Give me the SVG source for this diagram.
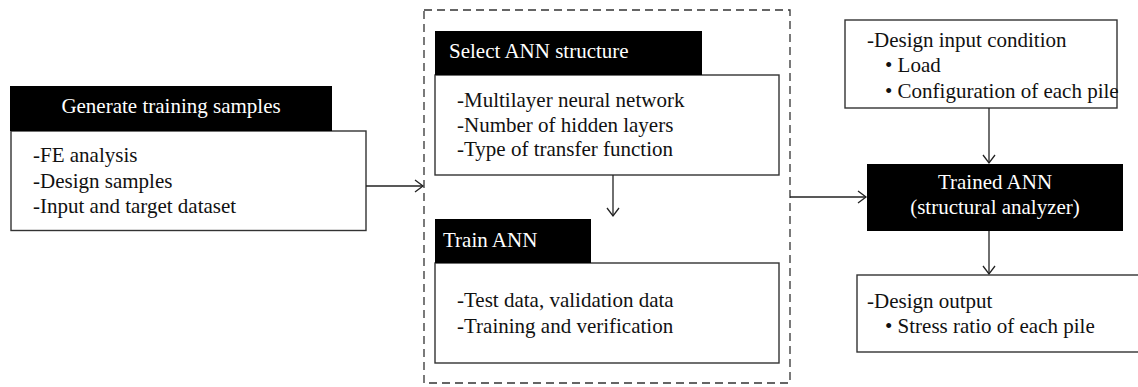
<svg xmlns="http://www.w3.org/2000/svg" width="1138" height="387" viewBox="0 0 1138 387">
<style>
text{font-family:"Liberation Serif","Times New Roman",serif;font-size:21px;fill:#111}
.hd{fill:#000}
.bx{fill:#fff;stroke:#333;stroke-width:1.4}
.wt{fill:#fff}
.ln{fill:none;stroke:#222;stroke-width:1.3}
.dash{fill:none;stroke:#333;stroke-width:1.3;stroke-dasharray:8 5}
</style>
<defs>
<marker id="arr" markerUnits="userSpaceOnUse" markerWidth="12" markerHeight="14" refX="9" refY="7" orient="auto">
<path d="M1,1 L9,7 L1,13" fill="none" stroke="#222" stroke-width="1.3"/>
</marker>
</defs>
<rect id="group-ann" class="dash" x="424" y="10" width="366" height="373"/>
<g id="generate">
<rect class="bx" x="11" y="131" width="355" height="99.5"/>
<rect class="hd" x="10" y="86" width="322" height="45"/>
<text class="wt" x="171" y="113" text-anchor="middle">Generate training samples</text>
<text x="33" y="162">-FE analysis</text>
<text x="33" y="188">-Design samples</text>
<text x="33" y="213">-Input and target dataset</text>
</g>
<g id="select">
<rect class="bx" x="435" y="75" width="344" height="100"/>
<rect class="hd" x="435" y="31" width="267" height="44"/>
<text class="wt" x="449" y="58">Select ANN structure</text>
<text x="457" y="107">-Multilayer neural network</text>
<text x="457" y="132">-Number of hidden layers</text>
<text x="457" y="156">-Type of transfer function</text>
</g>
<g id="train">
<rect class="bx" x="435" y="263" width="344" height="100"/>
<rect class="hd" x="435" y="219" width="156" height="44"/>
<text class="wt" x="443" y="247">Train ANN</text>
<text x="457" y="307">-Test data, validation data</text>
<text x="457" y="333">-Training and verification</text>
</g>
<g id="input">
<rect class="bx" x="845" y="20" width="272" height="88"/>
<text x="867" y="47">-Design input condition</text>
<text x="885" y="72">• Load</text>
<text x="885" y="98">• Configuration of each pile</text>
</g>
<g id="trained">
<rect class="hd" x="867" y="164" width="256" height="67"/>
<text class="wt" x="995" y="189" text-anchor="middle">Trained ANN</text>
<text class="wt" x="995" y="214" text-anchor="middle">(structural analyzer)</text>
</g>
<g id="output">
<rect class="bx" x="857" y="275" width="282" height="77"/>
<text x="867" y="308">-Design output</text>
<text x="885" y="333">• Stress ratio of each pile</text>
</g>
<g id="connectors">
<line class="ln" x1="366" y1="186" x2="423" y2="186" marker-end="url(#arr)"/>
<line class="ln" x1="613" y1="175" x2="613" y2="216" marker-end="url(#arr)"/>
<line class="ln" x1="790" y1="197" x2="866" y2="197" marker-end="url(#arr)"/>
<line class="ln" x1="989" y1="108" x2="989" y2="163" marker-end="url(#arr)"/>
<line class="ln" x1="989" y1="231" x2="989" y2="274" marker-end="url(#arr)"/>
</g>
</svg>
